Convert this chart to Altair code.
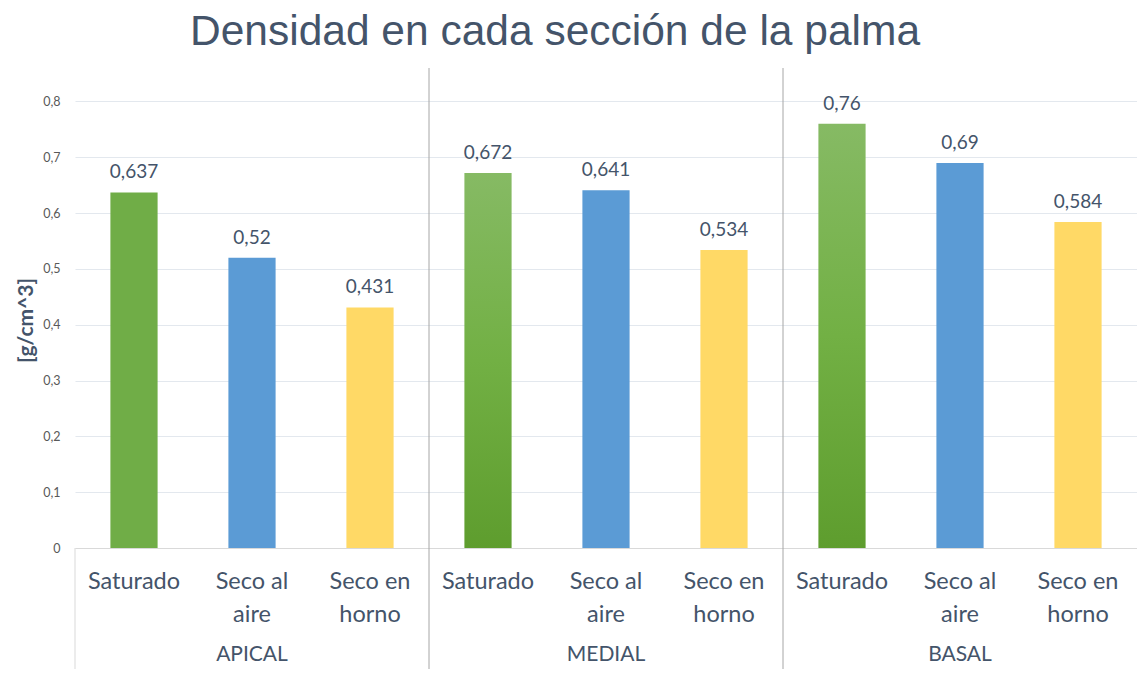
import altair as alt
import pandas as pd

groups = ["APICAL", "APICAL", "APICAL", "MEDIAL", "MEDIAL", "MEDIAL", "BASAL", "BASAL", "BASAL"]
conditions = ["Saturado", "Seco al aire", "Seco en horno"] * 3
values = [0.637, 0.52, 0.431, 0.672, 0.641, 0.534, 0.76, 0.69, 0.584]
labels = ["0,637", "0,52", "0,431", "0,672", "0,641", "0,534", "0,76", "0,69", "0,584"]
y_ticks = [0, 0.1, 0.2, 0.3, 0.4, 0.5, 0.6, 0.7, 0.8]
group_names = ["APICAL", "MEDIAL", "BASAL"]

keys = [f"{g}|{c}" for g, c in zip(groups, conditions)]
df = pd.DataFrame({
    "key": keys,
    "group": groups,
    "cond": conditions,
    "value": values,
    "label": labels,
    "gradient": [g != "APICAL" and c == "Saturado" for g, c in zip(groups, conditions)],
})

W, H = 1062, 480
TEXT = "#44546a"

xscale = alt.Scale(domain=keys, paddingInner=0, paddingOuter=0)
label_expr = ("indexof(datum.label, 'Saturado') >= 0 ? 'Saturado' : "
              "(indexof(datum.label, 'aire') >= 0 ? ['Seco al', 'aire'] : ['Seco en', 'horno'])")
xenc = alt.X("key:N", scale=xscale, sort=keys,
             axis=alt.Axis(title=None, labelExpr=label_expr, labelAngle=0, labelAlign="center",
                           ticks=False, domain=True, domainColor="#d9d9d9", labelFont="Lato",
                           labelFontSize=23.5, labelColor=TEXT, labelPadding=33,
                           labelLineHeight=33, labelBaseline="middle"))
yscale = alt.Scale(domain=[0, 0.86], nice=False)
yenc = alt.Y("value:Q", scale=yscale,
             axis=alt.Axis(title="[g/cm^3]", values=y_ticks,
                           labelExpr="replace(format(datum.value, '.1~f'), '.', ',')",
                           domain=False, ticks=False, labelPadding=15,
                           labelFont="Lato", labelFontSize=12.5, labelColor="#595959",
                           gridColor="#e3e8ee", gridWidth=1.2,
                           titleFont="Lato", titleFontSize=21, titleFontWeight="bold",
                           titleColor=TEXT, titlePadding=6, titleY=252))

base = alt.Chart(df)

solid = base.transform_filter("!datum.gradient").mark_bar(width={"band": 0.4}).encode(
    x=xenc, y=yenc,
    color=alt.Color("cond:N", scale=alt.Scale(domain=["Saturado", "Seco al aire", "Seco en horno"],
                                              range=["#70ad47", "#5b9bd5", "#ffd966"]),
                    legend=None),
)

grad = base.transform_filter("datum.gradient").mark_bar(
    width={"band": 0.4},
    color=alt.LinearGradient(gradient="linear", x1=0, x2=0, y1=0, y2=1,
                             stops=[alt.GradientStop(color="#86ba64", offset=0),
                                    alt.GradientStop(color="#72b044", offset=0.5),
                                    alt.GradientStop(color="#5e9d2e", offset=1)]),
).encode(x=xenc, y="value:Q")

text = base.mark_text(dy=-10, font="Lato", fontSize=19, color=TEXT, baseline="bottom").encode(
    x=alt.X("key:N", scale=xscale), y="value:Q", text="label:N")

gdf = pd.DataFrame({"key": [f"{g}|Seco al aire" for g in group_names], "group": group_names})
glabels = alt.Chart(gdf).mark_text(font="Lato", fontSize=21, color=TEXT, baseline="alphabetic").encode(
    x=alt.X("key:N", scale=xscale), y=alt.value(H + 113), text="group:N")

sdf = pd.DataFrame({"key": [f"{g}|Saturado" for g in group_names[1:]]})
seps = alt.Chart(sdf).mark_rule(color="#a6a6a6", strokeWidth=1).encode(
    x=alt.X("key:N", scale=xscale, bandPosition=0), y=alt.value(0), y2=alt.value(H + 121))

ldf = pd.DataFrame({"key": [f"{group_names[0]}|Saturado"]})
leftline = alt.Chart(ldf).mark_rule(color="#d9d9d9", strokeWidth=1).encode(
    x=alt.X("key:N", scale=xscale, bandPosition=0), y=alt.value(H), y2=alt.value(H + 121))

chart = alt.layer(seps, leftline, solid, grad, text, glabels).properties(
    width=W, height=H,
    title=alt.Title("Densidad en cada sección de la palma", font="Liberation Sans",
                    fontSize=42.5, fontWeight="normal", color=TEXT, anchor="middle",
                    dx=-51, offset=14),
    autosize=alt.AutoSizeParams(type="none"),
    padding={"left": 67, "top": 60, "right": 0, "bottom": 121},
).configure_view(stroke=None).configure_axis(labelOverlap=False)

chart.save("out.html", embed_options={"renderer": "svg", "actions": False})
